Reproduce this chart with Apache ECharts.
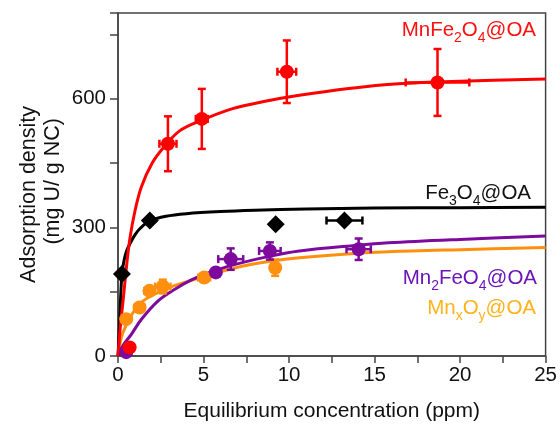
<!DOCTYPE html>
<html>
<head>
<meta charset="utf-8">
<script src="https://cdn.jsdelivr.net/npm/echarts@6/dist/echarts.min.js"></script>
<style>html,body{margin:0;padding:0;background:#fff;}#c{width:560px;height:427px;}</style>
</head>
<body>
<div id="c"></div>
<script>
// ---- Data ----
// Fitted curves
var mnfeCurveX = [0, 0.15, 0.3, 0.5, 0.7, 1.0, 1.37, 2.0, 2.64, 3.6, 4.9, 6.7, 8.6, 10.6, 13.5, 16.4, 20, 25];
var mnfeCurveY = [0, 75, 130, 210, 275, 340, 395, 450, 485, 525, 550, 577, 594, 608, 624, 635, 641, 646];
var feCurveX = [0, 0.04, 0.1, 0.17, 0.23, 0.35, 0.5, 0.7, 1.0, 1.3, 1.86, 2.8, 4, 6, 8, 11, 15, 20, 25];
var feCurveY = [0, 30, 85, 150, 191, 222, 245, 262, 283, 298, 315, 326, 332, 337, 340, 343, 345, 346, 347];
var mn2CurveX = [0, 0.3, 0.77, 1.36, 2.33, 3.3, 4.26, 5.23, 6.7, 8.9, 10.6, 13.9, 15.8, 20, 25];
var mn2CurveY = [0, 25, 50, 85, 128, 155, 177, 193, 212, 233, 245, 258, 264, 272, 280];
var mnxCurveX = [0, 0.1, 0.29, 0.77, 1.36, 2.33, 3.3, 4.26, 5.23, 6.7, 7.67, 8.9, 10.6, 13, 15.8, 20, 25];
var mnxCurveY = [0, 25, 55, 94, 125, 148, 164, 176, 188, 204, 213, 221, 229, 237, 243, 248, 253];

// Measured points: x, y, x error, y error
var mnfePtX = [0.68, 2.92, 4.9, 9.87, 18.68];
var mnfePtY = [20, 495, 553, 663, 638];
var mnfeErrX = [0.25, 0.5, 0.35, 0.55, 1.86];
var mnfeErrY = [10, 64, 70, 73, 78];

var fePtX = [0.23, 1.86, 9.22, 13.24];
var fePtY = [191, 316, 307, 316];
var feErrX = [0, 0, 0, 1.05];
var feErrY = [0, 0, 0, 0];

var mn2PtX = [0.48, 5.72, 6.59, 8.88, 14.07];
var mn2PtY = [9, 195, 226, 245, 249];
var mn2ErrX = [0, 0.2, 0.73, 0.63, 0.71];
var mn2ErrY = [0, 8, 25, 20, 25];

var mnxPtX = [0.48, 1.26, 1.84, 2.62, 5.04, 9.19];
var mnxPtY = [86, 113, 152, 162, 183, 206];
var mnxErrX = [0.15, 0.3, 0.3, 0.45, 0.35, 0.2];
var mnxErrY = [8, 8, 8, 16, 10, 19];

// ---- Build chart ----
function pairs(xs, ys) { return xs.map(function (x, i) { return [x, ys[i]]; }); }
function quads(xs, ys, ex, ey) { return xs.map(function (x, i) { return [x, ys[i], ex[i], ey[i]]; }); }

var RED = '#ff0000', BLACK = '#000000', PURPLE = '#7d0a9c', ORANGE = '#ff8f0f';
var FONT = '"Liberation Sans", Arial, sans-serif';

function curve(name, xs, ys, color) {
  return { name: name, type: 'line', data: pairs(xs, ys), showSymbol: false, smooth: 0.35,
    lineStyle: { color: color, width: 3 }, z: 2, silent: true };
}
function errBars(xs, ys, ex, ey, color) {
  return { type: 'custom', data: quads(xs, ys, ex, ey), z: 3, silent: true,
    renderItem: function (params, api) {
      var x = api.value(0), y = api.value(1), xe = api.value(2), ye = api.value(3);
      var c = api.coord([x, y]);
      var children = [];
      var st = { stroke: color, lineWidth: 2.5 };
      var cap = 4;
      if (ye > 0) {
        var t = api.coord([x, y + ye]), b = api.coord([x, y - ye]);
        children.push({ type: 'line', shape: { x1: c[0], y1: t[1], x2: c[0], y2: b[1] }, style: st });
        children.push({ type: 'line', shape: { x1: c[0] - cap, y1: t[1], x2: c[0] + cap, y2: t[1] }, style: st });
        children.push({ type: 'line', shape: { x1: c[0] - cap, y1: b[1], x2: c[0] + cap, y2: b[1] }, style: st });
      }
      if (xe > 0) {
        var l = api.coord([x - xe, y]), r = api.coord([x + xe, y]);
        children.push({ type: 'line', shape: { x1: l[0], y1: c[1], x2: r[0], y2: c[1] }, style: st });
        children.push({ type: 'line', shape: { x1: l[0], y1: c[1] - cap, x2: l[0], y2: c[1] + cap }, style: st });
        children.push({ type: 'line', shape: { x1: r[0], y1: c[1] - cap, x2: r[0], y2: c[1] + cap }, style: st });
      }
      return { type: 'group', children: children };
    } };
}
function pts(xs, ys, color, symbol, size) {
  return { type: 'scatter', data: pairs(xs, ys), symbol: symbol, symbolSize: size,
    itemStyle: { color: color, opacity: 1 }, z: 4, silent: true };
}

function label(parts, color, x, y) {
  var txt = parts.map(function (p) { return p[1] ? '{s|' + p[0] + '}' : '{n|' + p[0] + '}'; }).join('');
  return { type: 'text', x: x, y: y, z: 10, style: {
    text: txt, align: 'right', verticalAlign: 'top', fill: color,
    rich: {
      n: { fontSize: 20.5, fontFamily: FONT, fill: color, lineHeight: 23, verticalAlign: 'top' },
      s: { fontSize: 14, fontFamily: FONT, fill: color, lineHeight: 15, verticalAlign: 'top', padding: [11, 0, 0, 0] }
    } } };
}

var option = {
  animation: false,
  backgroundColor: '#ffffff',
  grid: { left: 118, right: 13, top: 13, bottom: 70, show: true, borderColor: '#444', borderWidth: 1.5, containLabel: false },
  xAxis: {
    type: 'value', min: 0, max: 25, interval: 2.5,
    axisLine: { show: true, onZero: false, lineStyle: { color: '#444', width: 1.5 } },
    axisTick: { show: true, inside: false, length: 7, lineStyle: { color: '#444', width: 1.5 } },
    splitLine: { show: false },
    axisLabel: { fontSize: 20.5, fontFamily: FONT, color: '#111', margin: 9,
      formatter: function (v) { return (Math.abs(v % 5) < 1e-9) ? String(v) : ''; } },
    name: 'Equilibrium concentration (ppm)', nameLocation: 'middle', nameGap: 45,
    nameTextStyle: { fontSize: 21, fontFamily: FONT, color: '#111' }
  },
  yAxis: {
    type: 'value', min: 0, max: 800, interval: 150,
    axisLine: { show: true, lineStyle: { color: '#444', width: 1.5 } },
    axisTick: { show: true, inside: false, length: 8, lineStyle: { color: '#444', width: 1.5 } },
    splitLine: { show: false },
    axisLabel: { fontSize: 20.5, fontFamily: FONT, color: '#111', margin: 12,
      formatter: function (v) { return (v % 300 === 0 && v <= 600) ? String(v) : ''; } }
  },
  graphic: [
    { type: 'text', x: 29, y: 106, rotation: Math.PI / 2, z: 10,
      style: { text: 'Adsorption density', align: 'right', verticalAlign: 'middle', fill: '#111', fontSize: 21.5, fontFamily: FONT } },
    { type: 'text', x: 53, y: 118, rotation: Math.PI / 2, z: 10,
      style: { text: '(mg U/ g NC)', align: 'right', verticalAlign: 'middle', fill: '#111', fontSize: 21.5, fontFamily: FONT } },
    label([['MnFe'], ['2', 1], ['O'], ['4', 1], ['@OA']], '#ff1010', 536, 20),
    label([['Fe'], ['3', 1], ['O'], ['4', 1], ['@OA']], '#111111', 531, 183),
    label([['Mn'], ['2', 1], ['FeO'], ['4', 1], ['@OA']], '#6a16b8', 537, 268),
    label([['Mn'], ['x', 1], ['O'], ['y', 1], ['@OA']], '#ffb21a', 536, 298)
  ],
  series: [
    curve('MnxOy', mnxCurveX, mnxCurveY, ORANGE),
    curve('Mn2FeO4', mn2CurveX, mn2CurveY, PURPLE),
    curve('Fe3O4', feCurveX, feCurveY, BLACK),
    curve('MnFe2O4', mnfeCurveX, mnfeCurveY, RED),
    errBars(mnxPtX, mnxPtY, mnxErrX, mnxErrY, ORANGE),
    pts(mnxPtX, mnxPtY, ORANGE, 'circle', 14),
    errBars(mn2PtX, mn2PtY, mn2ErrX, mn2ErrY, PURPLE),
    pts(mn2PtX, mn2PtY, PURPLE, 'circle', 14),
    errBars(fePtX, fePtY, feErrX, feErrY, BLACK),
    pts(fePtX, fePtY, BLACK, 'diamond', 18),
    errBars(mnfePtX, mnfePtY, mnfeErrX, mnfeErrY, RED),
    pts(mnfePtX, mnfePtY, RED, 'circle', 14)
  ]
};
var chart = echarts.init(document.getElementById('c'), null, { renderer: 'canvas' });
chart.setOption(option);
</script>
</body>
</html>
